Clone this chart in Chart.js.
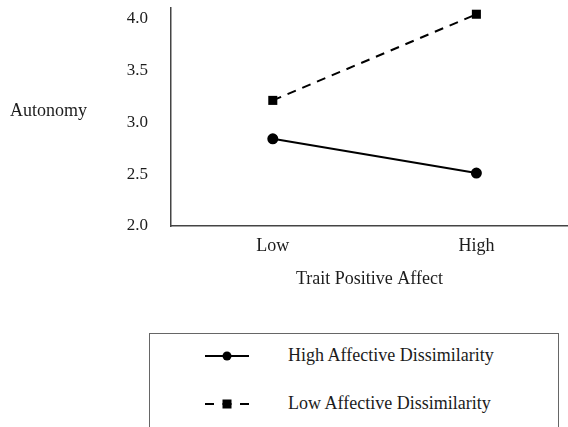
<!DOCTYPE html>
<html>
<head>
<meta charset="utf-8">
<script src="https://cdn.jsdelivr.net/npm/chart.js@4.4.0/dist/chart.umd.min.js"></script>
<style>
    body { margin: 0; background: #fff; }
    #wrap { position: relative; width: 568px; height: 427px; overflow: hidden; font-family: "Liberation Serif", serif; color: #1c1c1c; }
    #chart { position: absolute; left: 0; top: 0; }
    #ylabel { position: absolute; left: 10px; top: 100px; font-size: 18px; }
    #legend { position: absolute; left: 149px; top: 333px; width: 408px; height: 120px; border: 1.5px solid #666; }
    .row { position: absolute; left: 0; height: 24px; }
    .row svg { position: absolute; left: 55px; top: 0; }
    .row span { position: absolute; left: 138px; top: 1px; font-size: 18px; white-space: nowrap; }
</style>
</head>
<body>
<div id="wrap">
    <canvas id="chart" width="568" height="300"></canvas>
    <div id="ylabel">Autonomy</div>
    <div id="legend">
        <div class="row" style="top: 10px;">
            <svg width="46" height="24"><line x1="0" y1="12" x2="44" y2="12" stroke="#000" stroke-width="2"/><circle cx="22" cy="12" r="4.5" fill="#000"/></svg>
            <span id="leg1"></span>
        </div>
        <div class="row" style="top: 58px;">
            <svg width="46" height="24"><line x1="0" y1="12" x2="44" y2="12" stroke="#000" stroke-width="2" stroke-dasharray="9,8.5"/><rect x="17.5" y="7.5" width="9" height="9" fill="#000"/></svg>
            <span id="leg2"></span>
        </div>
    </div>
</div>
<script>
    // categorias e valores
    var categories = ["Low", "High"];
    var seriesNames = ["High Affective Dissimilarity", "Low Affective Dissimilarity"];
    var highDissimilarity = [2.84, 2.51];
    var lowDissimilarity = [3.21, 4.04];
    var yTicks = [2.0, 2.5, 3.0, 3.5, 4.0];

    document.getElementById("leg1").textContent = seriesNames[0];
    document.getElementById("leg2").textContent = seriesNames[1];

    var toPoints = function (arr) {
        return arr.map(function (v, i) { return {x: i, y: v}; });
    };

    // zera o padding que o Chart.js calcula para os rotulos
    var noPadding = function (scale) {
        scale.paddingTop = 0;
        scale.paddingBottom = 0;
        scale.paddingLeft = 0;
        scale.paddingRight = 0;
    };

    var textColor = "#1c1c1c";
    var serif = "'Liberation Serif', serif";

    var lineData = {
        datasets: [
            {
                label: seriesNames[0],
                data: toPoints(highDissimilarity),
                borderColor: "#000",
                backgroundColor: "#000",
                borderWidth: 2,
                pointStyle: "circle",
                pointRadius: 4.5,
                pointBackgroundColor: "#000",
                pointBorderColor: "#000",
                clip: false
            },
            {
                label: seriesNames[1],
                data: toPoints(lowDissimilarity),
                borderColor: "#000",
                backgroundColor: "#000",
                borderWidth: 2,
                borderDash: [9, 7],
                pointStyle: "rect",
                pointRadius: 6.4,
                pointBackgroundColor: "#000",
                pointBorderColor: "#000",
                pointBorderWidth: 0,
                clip: false
            }
        ]
    };

    var lineOptions = {
        responsive: false,
        animation: false,
        devicePixelRatio: 1,
        layout: {autoPadding: false, padding: {left: 0, right: 0, top: 8, bottom: 0}},
        plugins: {
            legend: {display: false},
            tooltip: {enabled: false}
        },
        scales: {
            x: {
                type: "linear",
                min: -0.5,
                max: 1.45,
                grid: {display: false, drawTicks: false},
                border: {display: true, color: "#444", width: 1.5},
                afterBuildTicks: function (scale) {
                    scale.ticks = categories.map(function (c, i) { return {value: i}; });
                },
                afterFit: function (scale) {
                    scale.height = 74;
                    noPadding(scale);
                },
                ticks: {
                    padding: 9,
                    color: textColor,
                    font: {family: serif, size: 18},
                    callback: function (value) { return categories[value]; }
                },
                title: {
                    display: true,
                    text: "Trait Positive Affect",
                    color: textColor,
                    font: {family: serif, size: 18},
                    padding: {top: 0, bottom: 10}
                }
            },
            y: {
                min: 2.0,
                max: 4.1,
                grid: {display: false, drawTicks: false},
                border: {display: true, color: "#444", width: 1.5},
                afterBuildTicks: function (scale) {
                    scale.ticks = yTicks.map(function (v) { return {value: v}; });
                },
                afterFit: function (scale) {
                    scale.width = 171;
                    noPadding(scale);
                },
                ticks: {
                    padding: 23,
                    color: textColor,
                    font: {family: serif, size: 17},
                    callback: function (value) { return value.toFixed(1); }
                }
            }
        }
    };

    var ctx = document.getElementById("chart").getContext("2d");
    new Chart(ctx, {type: "line", data: lineData, options: lineOptions});
</script>
</body>
</html>
